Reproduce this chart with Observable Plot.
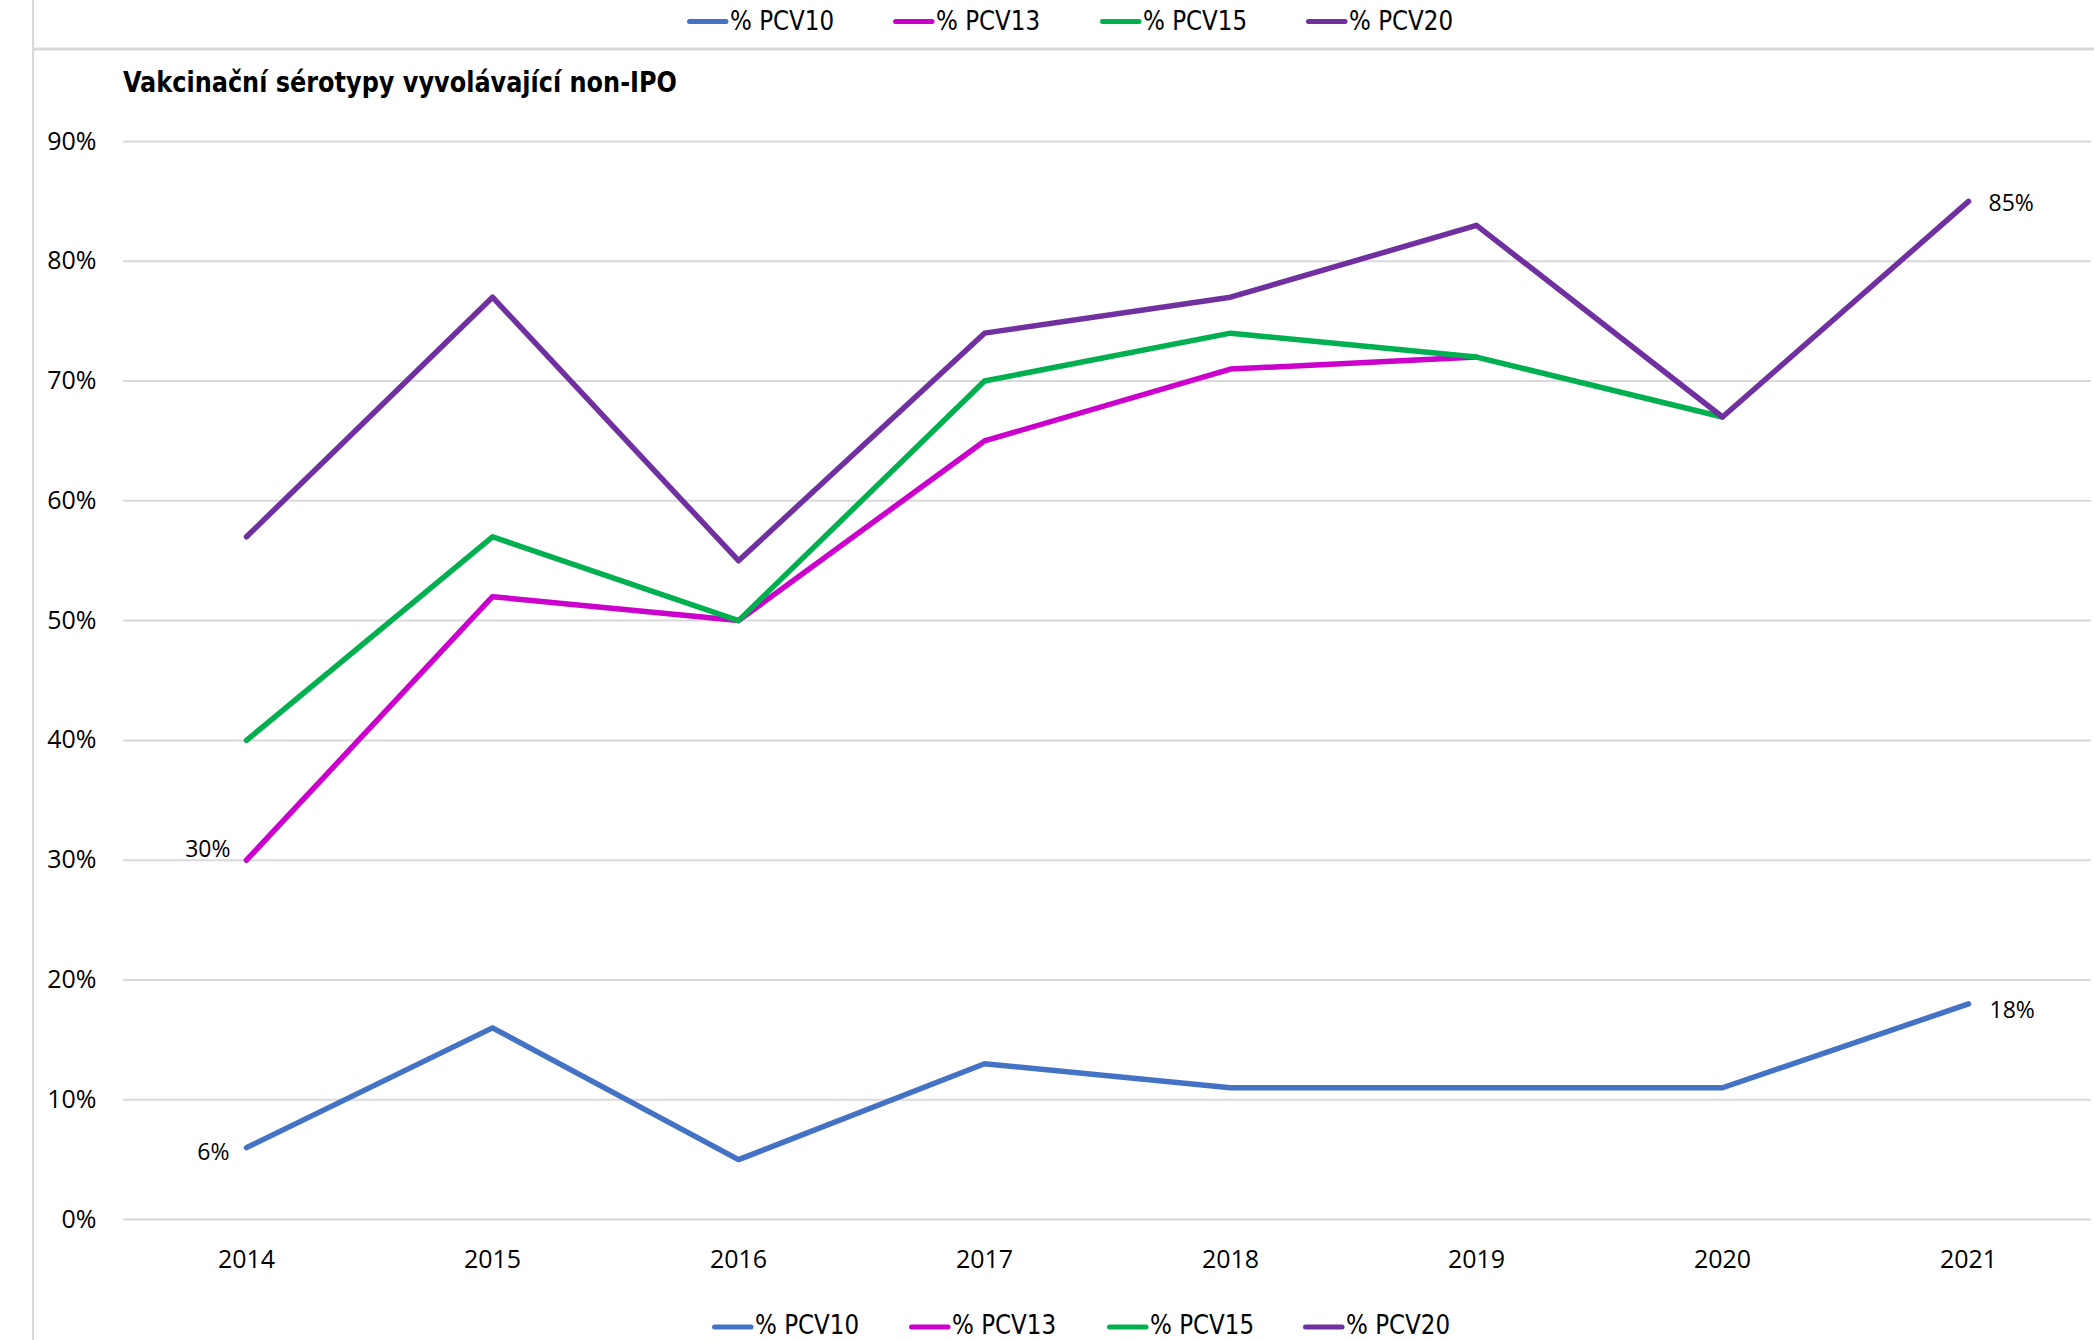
<!DOCTYPE html>
<html>
<head>
<meta charset="utf-8">
<script src="https://cdn.jsdelivr.net/npm/d3@7"></script>
<script src="https://cdn.jsdelivr.net/npm/@observablehq/plot@0.6"></script>
<style>
  html, body { margin: 0; padding: 0; background: #fff; }
  #wrap { position: relative; width: 2094px; height: 1340px; overflow: hidden; background: #fff; }
  #wrap > svg { position: absolute; left: 0; top: 0; }
</style>
</head>
<body>
<div id="wrap"></div>
<script>
// ---- data ----
const years = [2014, 2015, 2016, 2017, 2018, 2019, 2020, 2021];
const seriesNames = ["% PCV10", "% PCV13", "% PCV15", "% PCV20"];
const seriesColors = ["#4472C4", "#CC00CC", "#00B050", "#7030A0"];
const pcv10 = [6, 16, 5, 13, 11, 11, 11, 18];
const pcv13 = [30, 52, 50, 65, 71, 72, null, null];
const pcv15 = [40, 57, 50, 70, 74, 72, 67, null];
const pcv20 = [57, 77, 55, 74, 77, 83, 67, 85];
const yTicks = [0, 10, 20, 30, 40, 50, 60, 70, 80, 90];
const titleText = "Vakcinační sérotypy vyvolávající non-IPO";

const seriesValues = [pcv10, pcv13, pcv15, pcv20];
const rows = [];
seriesNames.forEach((s, i) => {
  years.forEach((yr, j) => rows.push({ series: s, year: yr, value: seriesValues[i][j] }));
});
const pick = (s, yr) => rows.filter(d => d.series === s && d.year === yr);

const W = 2094, H = 1340;
const labelFont = "'Open Sans', 'Noto Sans', sans-serif";
const narrowFont = "'Liberation Sans Narrow', 'DejaVu Sans Condensed', 'Open Sans', sans-serif";

const chart = Plot.plot({
  width: W,
  height: H,
  marginLeft: 123,
  marginRight: 3,
  marginTop: 141,
  marginBottom: 121,
  style: { fontFamily: labelFont, fontSize: "25px", color: "#000", background: "transparent", overflow: "visible" },
  x: { type: "point", domain: years, padding: 0.5, align: 0.5, label: null },
  y: { domain: [0, 90], label: null },
  color: { domain: seriesNames, range: seriesColors },
  marks: [
    Plot.ruleY(yTicks, { stroke: "#d9d9d9", strokeWidth: 2 }),
    Plot.axisY({ ticks: yTicks, tickSize: 0, tickPadding: 27, tickFormat: d => d + "%", fontSize: 25, label: null }),
    Plot.axisX({ ticks: years, tickSize: 0, tickPadding: 31, tickFormat: d => String(d), fontSize: 25, label: null }),
    Plot.line(rows, {
      x: "year", y: "value", z: "series", stroke: "series",
      strokeWidth: 5.5, strokeLinecap: "round", strokeLinejoin: "round"
    }),
    Plot.text(pick("% PCV13", 2014), { x: "year", y: "value", text: d => d.value + "%", textAnchor: "end", dx: -16, dy: -11, fontSize: 23, fill: "#000" }),
    Plot.text(pick("% PCV10", 2014), { x: "year", y: "value", text: d => d.value + "%", textAnchor: "end", dx: -17, dy: 5, fontSize: 23, fill: "#000" }),
    Plot.text(pick("% PCV20", 2021), { x: "year", y: "value", text: d => d.value + "%", textAnchor: "start", dx: 20, dy: 2, fontSize: 23, fill: "#000" }),
    Plot.text(pick("% PCV10", 2021), { x: "year", y: "value", text: d => d.value + "%", textAnchor: "start", dx: 21, dy: 7, fontSize: 23, fill: "#000" })
  ]
});

const wrap = document.getElementById("wrap");
wrap.appendChild(chart);

// ---- frame, title and legends (overlay) ----
const ov = d3.select(wrap).append("svg")
  .attr("width", W).attr("height", H)
  .style("pointer-events", "none");

ov.append("line").attr("x1", 33).attr("x2", 33).attr("y1", 0).attr("y2", H)
  .attr("stroke", "#d9d9d9").attr("stroke-width", 2);
ov.append("line").attr("x1", 33).attr("x2", W).attr("y1", 49).attr("y2", 49)
  .attr("stroke", "#d9d9d9").attr("stroke-width", 3);

ov.append("text")
  .attr("x", 123).attr("y", 92)
  .attr("font-family", narrowFont).attr("font-weight", "bold").attr("font-size", 29)
  .attr("textLength", 554).attr("lengthAdjust", "spacingAndGlyphs")
  .attr("fill", "#000")
  .text(titleText);

function legend(xs, swatchY, baseY) {
  seriesNames.forEach((s, i) => {
    const x0 = xs[i];
    ov.append("line").attr("x1", x0 + 2.5).attr("x2", x0 + 39).attr("y1", swatchY).attr("y2", swatchY)
      .attr("stroke", seriesColors[i]).attr("stroke-width", 5).attr("stroke-linecap", "round");
    ov.append("text").attr("x", x0 + 43).attr("y", baseY)
      .attr("font-family", narrowFont).attr("font-size", 26)
      .attr("textLength", 104).attr("lengthAdjust", "spacingAndGlyphs")
      .attr("fill", "#000")
      .text(s);
  });
}
legend([687, 893, 1100, 1306], 21.5, 30);
legend([712, 909, 1107, 1303], 1327, 1334);
</script>
</body>
</html>
